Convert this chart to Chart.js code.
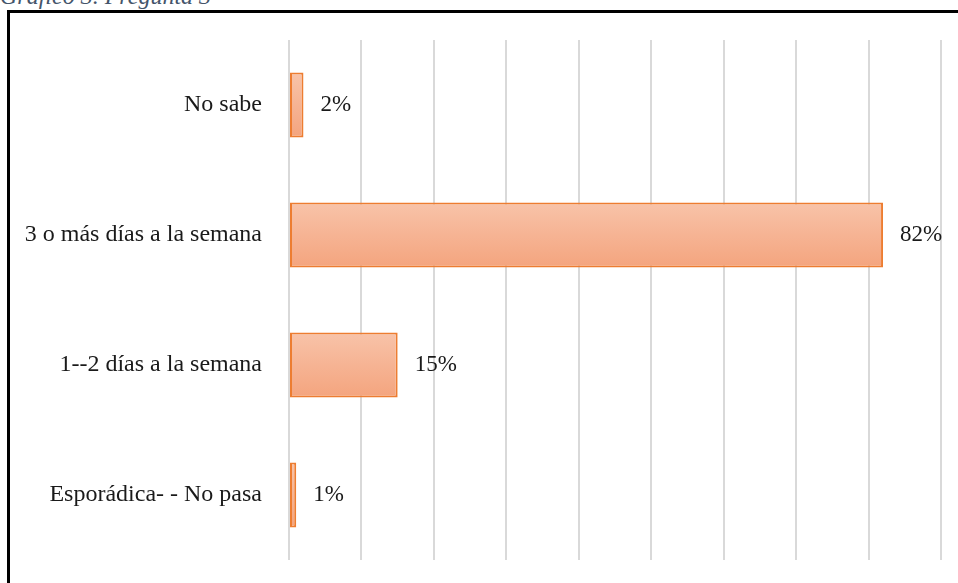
<!DOCTYPE html>
<html>
<head>
<meta charset="utf-8">
<script src="https://cdn.jsdelivr.net/npm/chart.js@4/dist/chart.umd.min.js"></script>
<style>
  body { margin: 0; background: #fff; overflow: hidden; }
  #title { position: absolute; left: 0; top: -18px; font: italic 24px "Liberation Serif", serif; line-height: 28px; color: #44546A; white-space: nowrap; }
  #frame { position: absolute; left: 7px; top: 10px; width: 970px; height: 600px; border: 3px solid #000; }
  #wrap { position: absolute; left: 0; top: 0; width: 958px; height: 583px; }
</style>
</head>
<body>
<div id="title">Gráfico 3. Pregunta 3</div>
<div id="frame"></div>
<div id="wrap"><canvas id="chart"></canvas></div>
<script>
const categories = ['No sabe', '3 o más días a la semana', '1--2 días a la semana', 'Esporádica- - No pasa'];
const values = [2, 82, 15, 1];
const axisMax = 90;
const axisStep = 10;

const serif = '"Liberation Serif", "Times New Roman", serif';

function barGradient(ctx) {
    const chart = ctx.chart;
    const y = chart.scales.y;
    if (!y || ctx.dataIndex === undefined) return '#F6B08F';
    const band = (y.bottom - y.top) / categories.length;
    const center = y.getPixelForValue(ctx.dataIndex);
    const half = band * 0.25;
    if (!isFinite(center) || !isFinite(half) || half <= 0) return '#F6B08F';
    const g = chart.ctx.createLinearGradient(0, center - half, 0, center + half);
    g.addColorStop(0, '#F8C3A9');
    g.addColorStop(1, '#F4A47E');
    return g;
}

const valueLabels = {
    id: 'valueLabels',
    afterDatasetsDraw(chart) {
        const c = chart.ctx;
        const meta = chart.getDatasetMeta(0);
        c.save();
        c.font = '23px ' + serif;
        c.fillStyle = '#1a1a1a';
        c.textBaseline = 'middle';
        c.textAlign = 'left';
        meta.data.forEach((bar, i) => {
            c.fillText(values[i] + '%', bar.x + 17, bar.y);
        });
        c.restore();
    }
};

new Chart(document.getElementById('chart'), {
    type: 'bar',
    data: {
        labels: categories,
        datasets: [{
            data: values,
            backgroundColor: barGradient,
            borderColor: '#ED7D31',
            borderWidth: 2,
            borderSkipped: false,
            barPercentage: 0.5,
            categoryPercentage: 1
        }]
    },
    options: {
        indexAxis: 'y',
        responsive: true,
        maintainAspectRatio: false,
        animation: false,
        layout: { padding: { top: 40, bottom: 23, right: 17, left: 0 } },
        plugins: { legend: { display: false }, tooltip: { enabled: false } },
        scales: {
            x: {
                min: 0,
                max: axisMax,
                ticks: { display: false, stepSize: axisStep },
                grid: { color: '#D9D9D9', lineWidth: 2, drawTicks: false },
                border: { display: false },
                afterFit(scale) { scale.height = 0; scale.paddingLeft = 0; scale.paddingRight = 0; }
            },
            y: {
                ticks: { color: '#1a1a1a', font: { family: serif, size: 24 }, padding: 27 },
                grid: { display: false, drawTicks: false },
                border: { display: false },
                afterFit(scale) { scale.width = 289; scale.paddingTop = 0; scale.paddingBottom = 0; }
            }
        }
    },
    plugins: [valueLabels]
});
</script>
</body>
</html>
